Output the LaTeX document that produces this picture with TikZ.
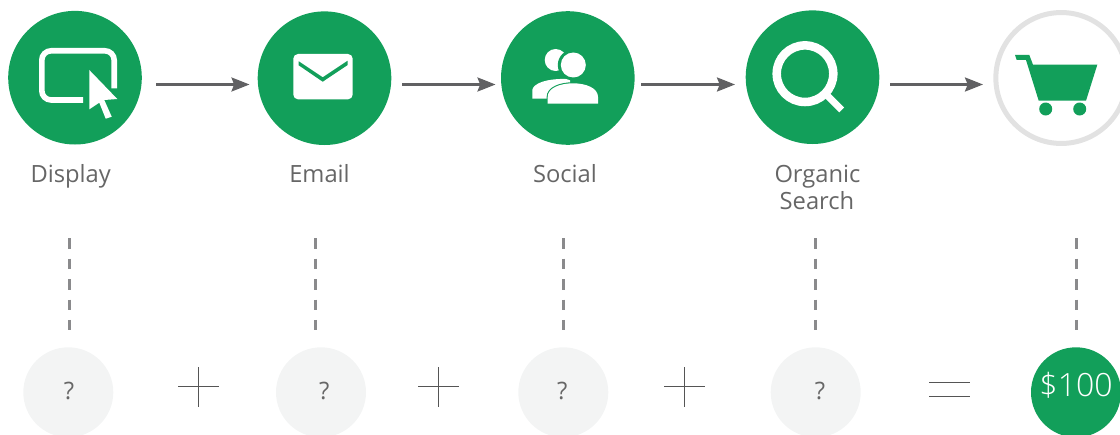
\documentclass[tikz,border=0pt]{standalone}
\usepackage{fontspec}
\setmainfont{Open Sans}
\newfontfamily\oslight{Open Sans Light}
\definecolor{grn}{HTML}{129F5A}
\definecolor{txt}{HTML}{666666}
\definecolor{ringc}{HTML}{E2E2E2}
\definecolor{pale}{HTML}{F3F4F4}
\definecolor{arr}{HTML}{616163}
\definecolor{dashc}{HTML}{8A8A8C}
\definecolor{opc}{HTML}{555555}
\usetikzlibrary{arrows.meta}
\tikzset{
  px/.style={x=0.75pt,y=-0.75pt},
  bigc/.style={circle,fill=grn,draw=none,minimum size=100.2pt,inner sep=0pt},
  cartc/.style={circle,fill=white,draw=ringc,line width=3.75pt,minimum size=98.2pt,inner sep=0pt},
  smallc/.style={circle,fill=pale,draw=none,minimum size=67.5pt,inner sep=0pt},
  totalc/.style={circle,fill=grn,draw=none,minimum size=67.5pt,inner sep=0pt},
  lbl/.style={text=txt,font=\fontsize{17.8}{20.25}\selectfont,inner sep=0pt,anchor=base},
  qm/.style={text=txt,font=\fontsize{18}{20}\selectfont,inner sep=0pt},
  flow/.style={draw=arr,line width=1.9pt,-{Stealth[length=13.5pt,width=10.5pt,inset=2pt]}},
  dashl/.style={draw=dashc,line width=2.4pt,dash pattern=on 7.9pt off 7.4pt},
  opl/.style={draw=opc,line width=1.05pt},
}
\begin{document}
\begin{tikzpicture}[px]
\clip (0,0) rectangle (1120,435);
% circles
\node[bigc] (display) at (75,77.7) {};
\node[bigc] (email) at (324.5,78.2) {};
\node[bigc] (social) at (567.8,78) {};
\node[bigc] (search) at (812.5,77.2) {};
\node[cartc] (cart) at (1061.3,78) {};
% display icon
\draw[white,line width=4.2pt,rounded corners=7pt] (83,100) -- (41.8,100) -- (41.8,50.8) -- (114.2,50.8) -- (114.2,88.5);
\fill[grn] (86,66) -- (120,100) -- (110,120) -- (86,112) -- cycle;
\fill[white] (89.3,70) -- (117.3,99) -- (104.3,100) -- (111.7,116.7) -- (105.7,118.7) -- (99.3,102.7) -- (89.3,109.3) -- cycle;
% email icon
\fill[white,rounded corners=3.5pt] (293.3,54) rectangle (352.7,99.3);
\fill[grn] (298.7,61.3) -- (322.7,77.3) -- (347.7,60.7) -- (347.7,65) -- (322.7,81.7) -- (298.7,65.3) -- cycle;
% social icon
\fill[white] (555.7,60) circle[radius=11];
\fill[white] (532.3,98.7) -- (532.3,90) .. controls (533,84) and (545,78) .. (570,79) -- (570,83) -- (550,98.7) -- cycle;
\fill[grn] (573.3,65) circle[radius=15.5];
\fill[white] (573.3,65) circle[radius=12.5];
\filldraw[fill=white,draw=grn,line width=1.6pt] (547.7,103.7) -- (547.7,97) .. controls (547.7,88) and (560,83.3) .. (573,83.3) .. controls (586,83.3) and (598,88) .. (598,97) -- (598,103.7) -- cycle;
\fill[white] (547.7,103.7) -- (547.7,97) .. controls (547.7,88) and (560,83.3) .. (573,83.3) .. controls (586,83.3) and (598,88) .. (598,97) -- (598,103.7) -- cycle;
% search icon
\draw[white,line width=6.4pt] (805,73.7) circle[radius=28.3];
\draw[white,line width=5.2pt] (826.7,95) -- (841.7,110);
% cart icon
\fill[grn] (1015,55) -- (1029.3,55) -- (1033,64.7) -- (1097.3,64.7) -- (1086,100.7) -- (1038.7,100.7) -- (1026,60) -- (1016.7,60) -- cycle;
\fill[grn] (1045.7,109) circle[radius=6.5];
\fill[grn] (1079.7,109) circle[radius=6.5];
% arrows
\coordinate (a1s) at (156,84.5); \coordinate (a1e) at (249.5,84.5);
\coordinate (a2s) at (402,84.5); \coordinate (a2e) at (495.5,84.5);
\coordinate (a3s) at (641,84.5); \coordinate (a3e) at (735,84.5);
\coordinate (a4s) at (890,84.5); \coordinate (a4e) at (983,84.5);
\draw[flow] (a1s) -- (a1e);
\draw[flow] (a2s) -- (a2e);
\draw[flow] (a3s) -- (a3e);
\draw[flow] (a4s) -- (a4e);
% labels
\node[lbl] (ldisplay) at (70.7,182.7) {Display};
\node[lbl] (lemail) at (319.5,182.7) {Email};
\node[lbl] (lsocial) at (565,182.7) {Social};
\node[lbl] (lorganic) at (817.5,182.7) {Organic};
\node[lbl] (lsearch) at (817,209.3) {Search};
% dashes
\coordinate (d1s) at (69.2,238.3); \coordinate (d1e) at (69.2,331);
\coordinate (d2s) at (315.2,238.3); \coordinate (d2e) at (315.2,331);
\coordinate (d3s) at (563.2,238.3); \coordinate (d3e) at (563.2,331);
\coordinate (d4s) at (815.2,238.3); \coordinate (d4e) at (815.2,331);
\coordinate (d5s) at (1076.2,238.3); \coordinate (d5e) at (1076.2,331);
\foreach \n in {1,...,5} \draw[dashl] (d\n s) -- (d\n e);
% bottom
\node[smallc] (v1) at (68.3,392.3) {};
\node[smallc] (v2) at (321,392.3) {};
\node[smallc] (v3) at (563.3,392.3) {};
\node[smallc] (v4) at (815.7,392.3) {};
\node[totalc] (v5) at (1076,392.3) {};
\node[text=white,font=\oslight\fontsize{24}{26}\selectfont,inner sep=0pt] (t5) at (1076,385.7) {\$100};
\node[qm] (q1) at (69,391.3) {?};
\node[qm] (q2) at (324.3,391.3) {?};
\node[qm] (q3) at (562.3,391.3) {?};
\node[qm] (q4) at (820,391.3) {?};
% operators
\foreach \c in {198.7,438.7,684.3} {
  \draw[opl] (\c-20.3,386.7) -- (\c+20.3,386.7);
  \draw[opl] (\c,367) -- (\c,407);
}
\draw[opl] (929,382.3) -- (970,382.3);
\draw[opl] (929,396.3) -- (970,396.3);
\end{tikzpicture}
\end{document}
